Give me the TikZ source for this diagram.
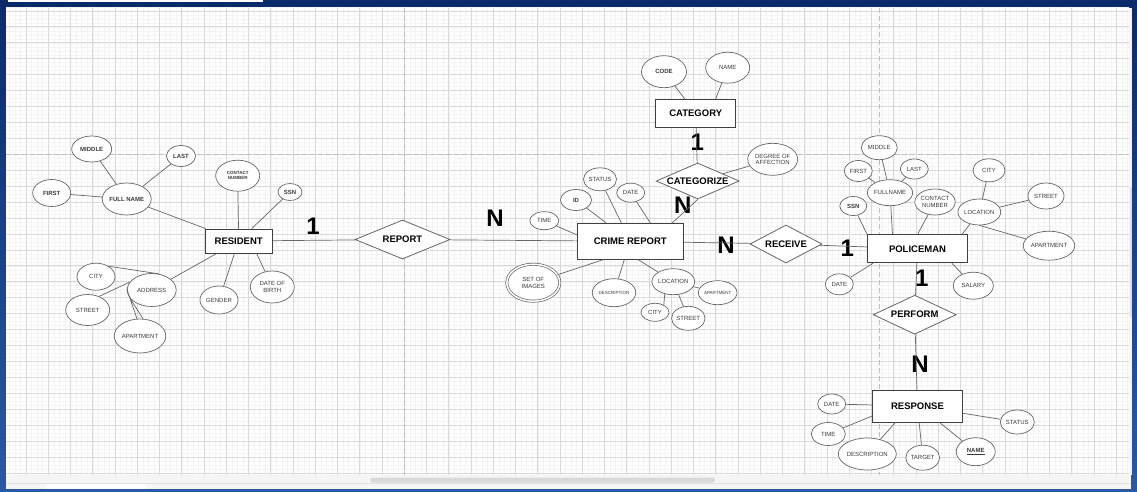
\documentclass[tikz,border=0pt]{standalone}
\usepackage{fontspec}
\setmainfont{Liberation Sans}
\usetikzlibrary{shapes.geometric}
\definecolor{frameblue}{HTML}{0B2A6B}
\definecolor{framelight}{HTML}{2B58A4}
\definecolor{gridmajor}{HTML}{D9D9D9}
\definecolor{gridminor}{HTML}{F4F4F4}
\definecolor{linegray}{HTML}{666666}
\definecolor{textgray}{HTML}{3A3A3A}

\begin{document}
\begin{tikzpicture}[x=1pt,y=-1pt,
			entity/.style={draw=black!75,fill=white,rectangle,inner sep=0pt,line width=0.8pt,font=\fontsize{9.5}{10}\selectfont\bfseries},
			relation/.style={draw=linegray,fill=white,diamond,aspect=2.2,inner sep=0pt,line width=0.8pt,font=\fontsize{9.5}{10}\selectfont\bfseries},
			attr/.style={draw=linegray,fill=white,ellipse,inner sep=0pt,line width=0.7pt,align=center,text=textgray,font=\fontsize{6}{6.5}\selectfont},
			key/.style={attr,font=\fontsize{6}{6.5}\selectfont\bfseries},
			card/.style={inner sep=0pt,font=\fontsize{24}{24}\selectfont\bfseries},
			conn/.style={draw=linegray,line width=0.7pt},
			sz/.style 2 args={minimum width=#1pt,minimum height=#2pt}]
			\useasboundingbox (0,0) rectangle (1137,492);
			% window frame and canvas
			\shade[top color=frameblue,bottom color=framelight] (0,0) rectangle (1137,492);
			\fill[white] (8,0) rectangle (263,2);
			\fill[white] (6,8) rectangle (1129,475);
			\begin{scope}
				\clip (6,8) rectangle (1129,475);
				\foreach \i in {0,...,201} \draw[gridminor,line width=0.4pt] ({9.31+5.5625*\i},8) -- ++(0,467);
				\foreach \j in {0,...,118} \draw[gridminor,line width=0.4pt] (6,{6.92+3.9825*\j}) -- ++(1123,0);
				\foreach \i in {0,...,49} \draw[gridmajor,line width=0.7pt] ({26+22.25*\i},8) -- ++(0,467);
				\foreach \j in {0,...,29} \draw[gridmajor,line width=0.7pt] (6,{10.9+15.93*\j}) -- ++(1123,0);
				\draw[black!25,line width=0.8pt,dash pattern=on 5pt off 3pt] (6,154.3) -- (1129,154.3) (404.3,8) -- (404.3,475) (879,8) -- (879,475);
			\end{scope}
			\fill[black!4] (6,475) rectangle (1131,489);
			\fill[white] (46,483) rectangle (146,489);
			\draw[black!12] (6,483) -- (1131,483);
			\fill[black!15,rounded corners=2.5pt] (370,477.5) rectangle (715,482.5);
			\fill[black!4] (1129,8) rectangle (1132,475);
			\fill[black!12] (1129.5,187) rectangle (1131.5,317);

			% resident
			\node (res) [entity,sz={67}{24}] at (238.7,241) {RESIDENT};
			\node (rmiddle) [key,sz={40}{26}] at (91.7,149) {MIDDLE};
			\node (rlast) [key,sz={29}{21}] at (181,156) {LAST};
			\node (rfirst) [key,sz={38}{27}] at (51.7,193) {FIRST};
			\node (rfull) [key,sz={45}{32}] at (126.7,199) {FULL NAME};
			\node (rcontact) [key,sz={44}{31},font=\fontsize{4.5}{5.5}\selectfont\bfseries] at (237.7,175.7) {CONTACT\\NUMBER};
			\node (rssn) [key,sz={24}{17}] at (290,192) {SSN};
			\node (rcity) [attr,sz={38}{27}] at (96,276.7) {CITY};
			\node (raddr) [attr,sz={49}{33}] at (151.7,290) {ADDRESS};
			\node (rstreet) [attr,sz={44}{31}] at (87.7,310) {STREET};
			\node (rapt) [attr,sz={48}{34}] at (140,336) {APARTMENT};
			\node (rgender) [attr,sz={38}{28}] at (219,300) {GENDER};
			\node (rdob) [attr,sz={44}{32}] at (272.3,287) {DATE OF\\BIRTH};
			\node (rep) [relation,sz={95}{39}] at (402.5,239.5) {REPORT};

			% crime report
			\node (crime) [entity,sz={106}{36}] at (630.3,241.3) {CRIME REPORT};
			\node (ctime) [attr,sz={29}{18}] at (544.3,220.7) {TIME};
			\node (cid) [key,sz={31}{21}] at (576,200) {ID};
			\node (cstatus) [attr,sz={33}{23}] at (600,179.3) {STATUS};
			\node (cdate) [attr,sz={28}{19}] at (630.7,192.7) {DATE};
			\node (cimages) [attr,double,double distance=1.5pt,sz={53}{37}] at (533.3,282.7) {SET OF\\IMAGES};
			\node (cdesc) [attr,sz={39}{28},font=\fontsize{4.5}{5}\selectfont] at (614,292.7) {DESCRIPTION};
			\node (cloc) [attr,sz={36}{26}] at (673.3,281.7) {LOCATION};
			\node (capt) [attr,sz={36}{24},font=\fontsize{4.5}{5}\selectfont] at (717.7,292.7) {APARTMENT};
			\node (ccity) [attr,sz={28}{18}] at (655,312.3) {CITY};
			\node (cstreet) [attr,sz={32}{24}] at (688.3,318.3) {STREET};

			% category
			\node (cat) [entity,sz={80}{28}] at (695.7,113.3) {CATEGORY};
			\node (catcode) [key,sz={45}{32}] at (664,71.7) {CODE};
			\node (catname) [attr,sz={44}{31}] at (727.7,67.7) {NAME};
			\node (catz) [relation,sz={83}{36}] at (697.7,181) {CATEGORIZE};
			\node (catdeg) [attr,sz={44}{32}] at (772.7,159.3) {DEGREE OF\\AFFECTION};
			\node (rec) [relation,sz={72}{38}] at (786,244) {RECEIVE};

			% policeman
			\node (pol) [entity,sz={100}{28}] at (917.5,248.8) {POLICEMAN};
			\node (pmiddle) [attr,sz={36}{24}] at (879.3,147.7) {MIDDLE};
			\node (pfirst) [attr,sz={28}{21}] at (858.3,171) {FIRST};
			\node (plast) [attr,sz={28}{20}] at (914.3,169) {LAST};
			\node (pfull) [attr,sz={35}{26}] at (890,192.7) {FULLNAME};
			\node (pssn) [key,sz={27}{19}] at (853.3,206) {SSN};
			\node (pcontact) [attr,sz={36}{26}] at (935,202) {CONTACT\\NUMBER};
			\node (pcity) [attr,sz={32}{23}] at (989,170.3) {CITY};
			\node (ploc) [attr,sz={36}{26}] at (979.3,212) {LOCATION};
			\node (pstreet) [attr,sz={36}{26}] at (1046,196) {STREET};
			\node (papt) [attr,sz={41}{29}] at (1049,245.7) {APARTMENT};
			\node (pdate) [attr,sz={28}{21}] at (839.3,284.3) {DATE};
			\node (psalary) [attr,sz={40}{27}] at (973.3,285.7) {SALARY};
			\node (perf) [relation,sz={83}{39}] at (914.7,314.7) {PERFORM};

			% response
			\node (resp) [entity,sz={90}{32}] at (917.5,406) {RESPONSE};
			\node (rsdate) [attr,sz={28}{20}] at (831.7,404) {DATE};
			\node (rstime) [attr,sz={34}{23}] at (828.3,434) {TIME};
			\node (rsdesc) [attr,sz={45}{32}] at (867.3,454) {DESCRIPTION};
			\node (rstarget) [attr,sz={33}{25}] at (922.7,457.7) {TARGET};
			\node (rsname) [key,sz={39}{28}] at (975.7,451.7) {\underline{NAME}};
			\node (rsstatus) [attr,sz={34}{24}] at (1017.3,422) {STATUS};

			% cardinalities
			\node (kres) [card] at (313,226) {1};
			\node (krep) [card] at (495,218) {N};
			\node (kcat) [card] at (697.3,142.7) {1};
			\node (kcatz) [card] at (682.7,205.7) {N};
			\node (kcrime) [card] at (726,245) {N};
			\node (kpolrec) [card] at (847.3,248.3) {1};
			\node (kpolperf) [card] at (921.7,278.3) {1};
			\node (kresp) [card] at (920,364) {N};

			% connectors
			\draw[conn] (res) -- (rep) -- (crime) -- (rec) -- (pol) -- (perf) -- (resp);
			\draw[conn] (rmiddle) -- (rfull) (rlast) -- (rfull) (rfirst) -- (rfull) (rfull) -- (res)
				(rcontact) -- (res) (rssn) -- (res) (raddr) -- (res) (rgender) -- (res)
				(rdob) -- ([xshift=-16pt]res.south east)
				(rcity.40) -- (raddr.66) (rstreet.50) -- (raddr.160)
				(rapt.100) -- (raddr.178) (rapt.80) -- (raddr.200);
			\draw[conn] (ctime) -- ([yshift=-12pt]crime.north west) (cid) -- (crime) (cstatus) -- (crime)
				(cdate) -- ([xshift=20pt]crime.north) (catz.south) -- ([xshift=42pt]crime.north)
				(cimages) -- ([xshift=-27pt]crime.south) (cdesc) -- ([xshift=-6pt]crime.south)
				(cloc) -- ([xshift=8pt]crime.south) (cloc) -- (capt) (cloc.235) -- (ccity.40) (cloc) -- (cstreet);
			\draw[conn] (catcode) -- (cat) (catname) -- ([xshift=20pt]cat.north) (cat) -- (catz) (catz) -- (catdeg);
			\draw[conn] (pssn) -- (pol.north west) (pfull) -- ([xshift=-25pt]pol.north) (pcontact) -- (pol.north)
				(ploc) -- ([xshift=-6pt]pol.north east) (pcity) -- (ploc) (pstreet) -- (ploc) (papt) -- (ploc.south)
				(pmiddle) -- (pfull) (pfirst) -- (pfull) (plast) -- (pfull)
				(pdate) -- ([xshift=6pt]pol.south west) (psalary) -- ([xshift=-16pt]pol.south east);
			\draw[conn] (rsdate) -- (resp) (rstime) -- ([yshift=-10pt]resp.west) (rsdesc) -- ([xshift=-22pt]resp.south)
				(rstarget) -- (resp) (rsname) -- ([xshift=22pt]resp.south) (rsstatus) -- (resp);
		\end{tikzpicture}
\end{document}
